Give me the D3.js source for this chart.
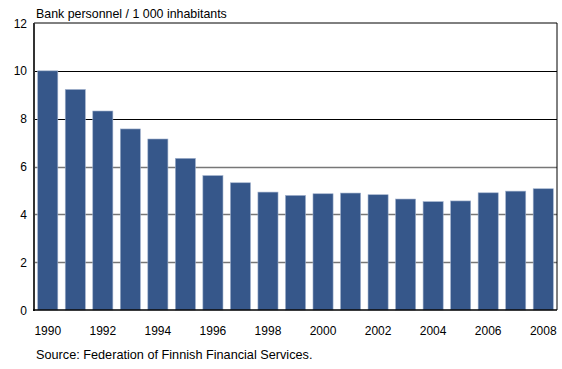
<!DOCTYPE html>
<html><head><meta charset="utf-8">
<script src="https://cdn.jsdelivr.net/npm/d3@7"></script>
<style>body{margin:0;background:#fff;} text{font-family:"Liberation Sans",Arial,sans-serif;}</style>
</head><body>
<svg id="c" width="562" height="369"></svg>
<script>
const years = [1990,1991,1992,1993,1994,1995,1996,1997,1998,1999,2000,2001,2002,2003,2004,2005,2006,2007,2008];
const values = [10.0,9.22,8.32,7.57,7.15,6.34,5.62,5.32,4.93,4.79,4.86,4.89,4.82,4.64,4.53,4.56,4.90,4.97,5.07];
const yTicks = [0,2,4,6,8,10,12];
const xTickLabels = [1990,1992,1994,1996,1998,2000,2002,2004,2006,2008];

const svg = d3.select("#c");
const L = 34, R = 557, T = 23, B = 310;
const x = d3.scaleBand().domain(years).range([L, R]).paddingInner(0.27).paddingOuter(0.135);
const y = d3.scaleLinear().domain([0, 12]).range([B, T]);

// gridlines
svg.append("g").selectAll("line").data(yTicks.filter(d => d > 0 && d < 12)).join("line")
  .attr("x1", L).attr("x2", R).attr("y1", d => Math.round(y(d)) + 0.5).attr("y2", d => Math.round(y(d)) + 0.5)
  .attr("stroke", d => d >= 8 ? "#000" : "#777").attr("stroke-width", d => d >= 8 ? 1 : 1.6);

// bars
svg.append("g").selectAll("rect").data(years).join("rect")
  .attr("x", d => x(d)).attr("width", x.bandwidth())
  .attr("y", (d, i) => y(values[i])).attr("height", (d, i) => B - y(values[i]))
  .attr("fill", "#36578a").attr("stroke", "#9fb0cc").attr("stroke-width", 0.6);

// frame
svg.append("line").attr("x1", L).attr("x2", R).attr("y1", T).attr("y2", T).attr("stroke", "#000");
svg.append("line").attr("x1", R).attr("x2", R).attr("y1", T).attr("y2", B).attr("stroke", "#000");
svg.append("line").attr("x1", L).attr("x2", L).attr("y1", T).attr("y2", B + 1).attr("stroke", "#333").attr("stroke-width", 2);
svg.append("line").attr("x1", L - 1).attr("x2", R).attr("y1", B).attr("y2", B).attr("stroke", "#000").attr("stroke-width", 1.6);

// y labels
svg.append("g").selectAll("text").data(yTicks).join("text")
  .attr("x", 27).attr("y", d => y(d) + 4.5).attr("text-anchor", "end")
  .attr("font-size", 12).attr("fill", "#000").text(d => d);

// x labels
svg.append("g").selectAll("text").data(xTickLabels).join("text")
  .attr("x", d => x(d) + x.bandwidth() / 2).attr("y", 335).attr("text-anchor", "middle")
  .attr("font-size", 12).attr("fill", "#000").text(d => d);

svg.append("text").attr("x", 36).attr("y", 18).attr("font-size", 12.4).text("Bank personnel / 1 000 inhabitants");
svg.append("text").attr("x", 36).attr("y", 359).attr("font-size", 12.7).text("Source: Federation of Finnish Financial Services.");
</script>
</body></html>
